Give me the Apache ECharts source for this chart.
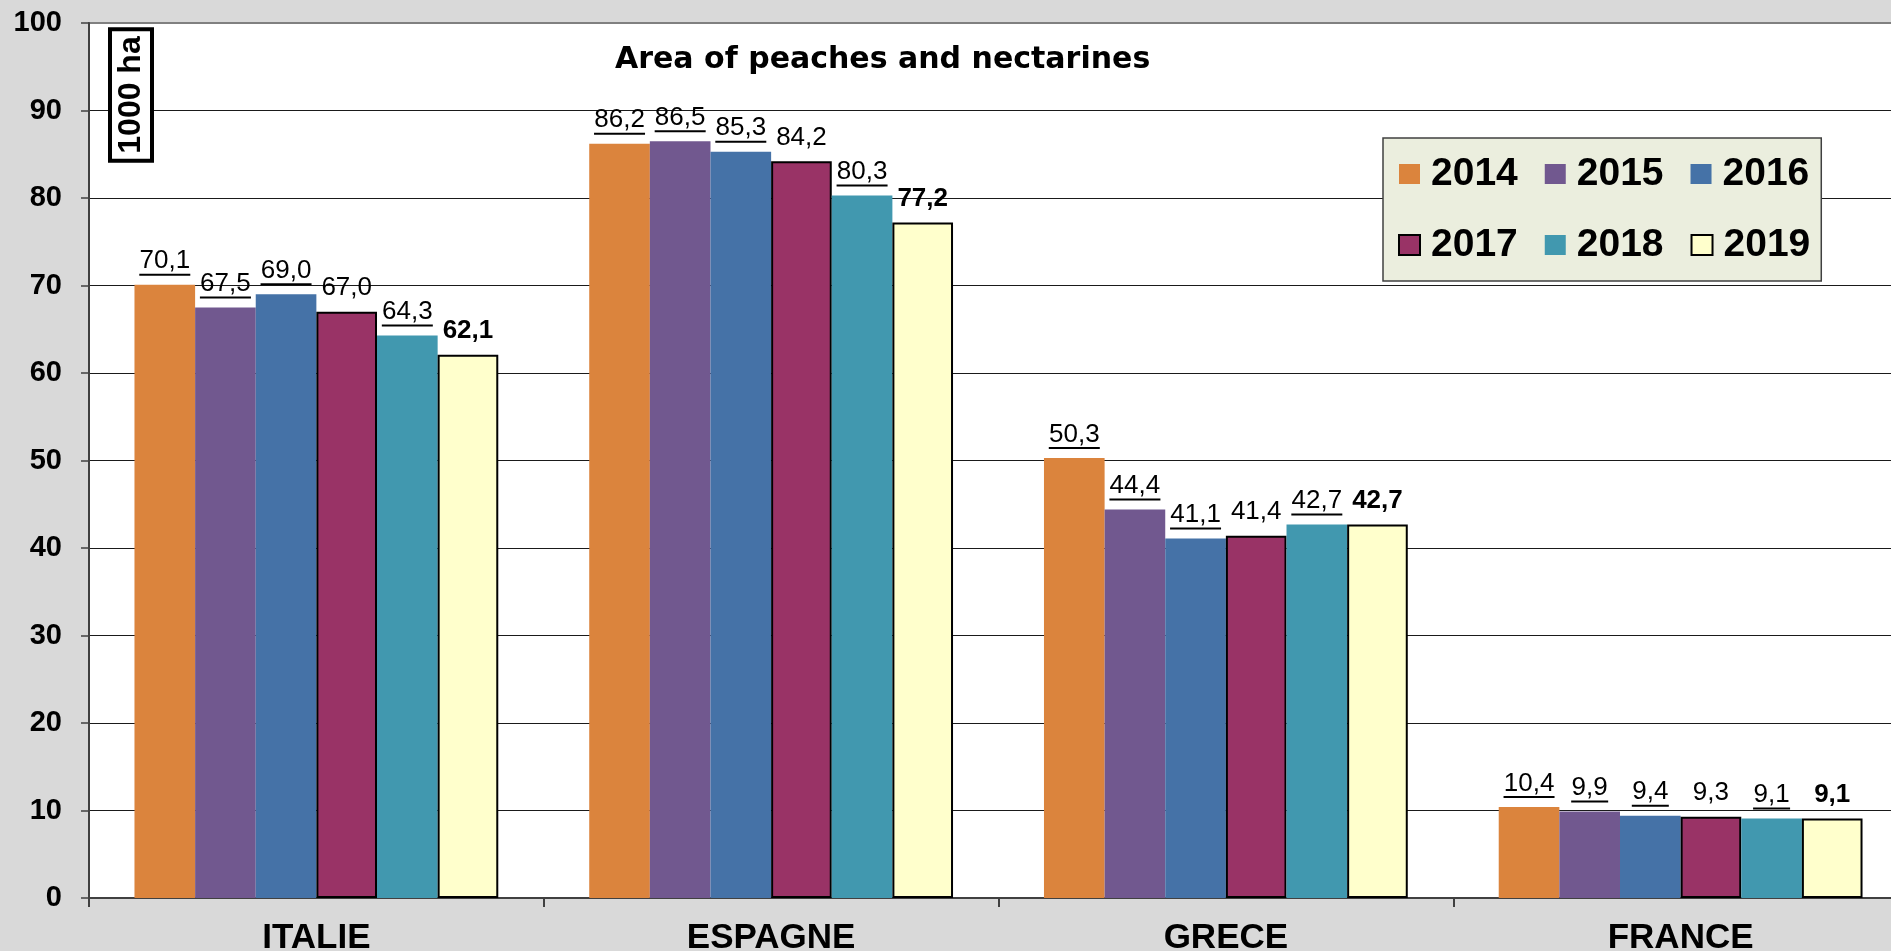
<!DOCTYPE html>
<html>
<head>
<meta charset="utf-8">
<script src="https://cdn.jsdelivr.net/npm/echarts@6/dist/echarts.min.js"></script>
<style>
html,body{margin:0;padding:0;background:#D9D9D9;}
#chart{width:1891px;height:951px;}
</style>
</head>
<body>
<div id="chart"></div>
<script>
const categories = ['ITALIE', 'ESPAGNE', 'GRECE', 'FRANCE'];
const years = ['2014', '2015', '2016', '2017', '2018', '2019'];
const v2014 = [70.1, 86.2, 50.3, 10.4];
const v2015 = [67.5, 86.5, 44.4, 9.9];
const v2016 = [69.0, 85.3, 41.1, 9.4];
const v2017 = [67.0, 84.2, 41.4, 9.3];
const v2018 = [64.3, 80.3, 42.7, 9.1];
const v2019 = [62.1, 77.2, 42.7, 9.1];
const yTicks = [0, 10, 20, 30, 40, 50, 60, 70, 80, 90, 100];
const titleText = 'Area of peaches and nectarines';
const unitText = '1000 ha';

const values = [v2014, v2015, v2016, v2017, v2018, v2019];
const colors = ['#DB843D', '#71588F', '#4572A7', '#993366', '#4198AF', '#FFFFCC'];
const bordered = [false, false, false, true, false, true];
const underlined = [true, true, true, false, true, false];
const boldLabel = [false, false, false, false, false, true];

const FONT = '"Liberation Sans", Arial, sans-serif';

function fmt(v) { return v.toFixed(1).replace('.', ','); }

const series = years.map((y, i) => ({
  name: y,
  type: 'bar',
  data: values[i],
  barGap: 0,
  barCategoryGap: '20%',
  itemStyle: {
    color: colors[i],
    borderColor: bordered[i] ? '#000' : colors[i],
    borderWidth: bordered[i] ? 2 : 0
  },
  label: {
    show: true,
    position: 'top',
    distance: 9,
    formatter: function (p) {
      const s = fmt(p.value);
      const u = (underlined[i] ? 'u' : 'x') + (s.length > 3 ? '4' : '3');
      return '{n|' + s + '}\n{' + u + '|}';
    },
    rich: {
      n: { fontFamily: FONT, fontSize: 26, lineHeight: 25, color: '#000', fontWeight: boldLabel[i] ? 'bold' : 'normal' },
      u4: { width: 51, height: 2, lineHeight: 2, backgroundColor: '#000' },
      u3: { width: 37, height: 2, lineHeight: 2, backgroundColor: '#000' },
      x4: { width: 51, height: 2, lineHeight: 2 },
      x3: { width: 37, height: 2, lineHeight: 2 }
    }
  }
}));

const chart = echarts.init(document.getElementById('chart'), null, { renderer: 'canvas' });
chart.setOption({
  backgroundColor: '#D9D9D9',
  animation: false,
  title: {
    text: titleText,
    left: 615,
    top: 45,
    padding: 0,
    textStyle: { fontFamily: '"DejaVu Sans", sans-serif', fontWeight: 'bold', fontSize: 30, color: '#000' }
  },
  legend: {
    data: years,
    left: 1383,
    top: 138,
    width: 420,
    orient: 'horizontal',
    backgroundColor: '#EBEEDE',
    borderColor: '#404040',
    borderWidth: 1.5,
    padding: [14, 11, 14, 15],
    itemGap: 27,
    itemWidth: 21,
    itemHeight: 20,
    icon: 'rect',
    textStyle: { fontFamily: FONT, fontWeight: 'bold', fontSize: 39, color: '#000', lineHeight: 44, padding: [0, 0, 0, 6] }
  },
  grid: {
    left: 89,
    top: 23,
    width: 1819,
    bottom: 53,
    show: true,
    backgroundColor: '#FFFFFF',
    borderColor: '#808080',
    borderWidth: 2,
    containLabel: false,
    outerBoundsMode: 'none'
  },
  xAxis: {
    type: 'category',
    data: categories,
    axisLine: { show: true, lineStyle: { color: '#404040', width: 2 } },
    axisTick: { show: true, length: 9, lineStyle: { color: '#404040', width: 2 } },
    axisLabel: { margin: 23, fontFamily: FONT, fontWeight: 'bold', fontSize: 35, color: '#000' }
  },
  yAxis: {
    type: 'value',
    min: yTicks[0],
    max: yTicks[yTicks.length - 1],
    interval: yTicks[1] - yTicks[0],
    axisLine: { show: true, lineStyle: { color: '#404040', width: 2 } },
    axisTick: { show: true, length: 8, lineStyle: { color: '#404040', width: 1.5 } },
    axisLabel: { margin: 27, fontFamily: FONT, fontWeight: 'bold', fontSize: 29, color: '#000' },
    splitLine: { show: true, showMaxLine: false, lineStyle: { color: '#1a1a1a', width: 1.2 } }
  },
  graphic: [{
    type: 'text',
    x: 131,
    y: 95,
    rotation: Math.PI / 2,
    z: 100,
    style: {
      text: unitText,
      fontFamily: FONT,
      fontWeight: 'bold',
      fontSize: 32,
      fill: '#000',
      align: 'center',
      verticalAlign: 'middle',
      backgroundColor: '#fff',
      borderColor: '#000',
      borderWidth: 4,
      padding: [4, 5, 2, 5]
    }
  }],
  series: series
});
</script>
</body>
</html>
